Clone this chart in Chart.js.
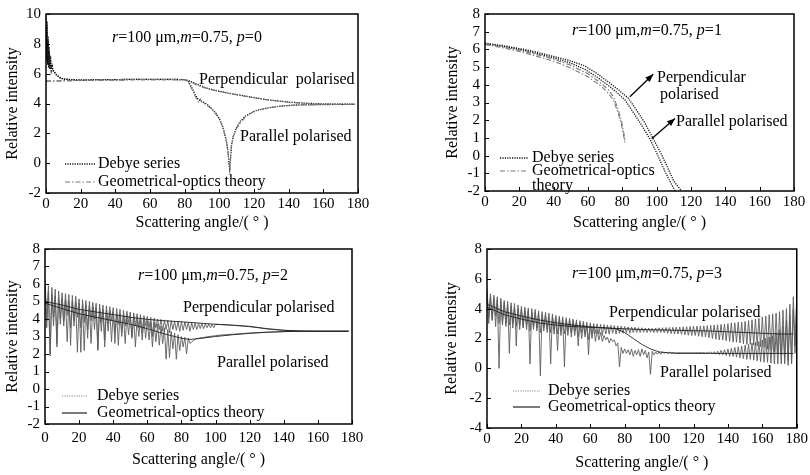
<!DOCTYPE html>
<html><head><meta charset="utf-8">
<script src="https://cdn.jsdelivr.net/npm/chart.js@4.4.0/dist/chart.umd.min.js"></script>
<style>
html,body{margin:0;padding:0;background:#fff;width:810px;height:475px;overflow:hidden}
.p{position:absolute}
</style></head><body>
<div class="p" style="left:0;top:0"><canvas id="c0" width="405" height="235"></canvas></div>
<div class="p" style="left:405px;top:0"><canvas id="c1" width="405" height="235"></canvas></div>
<div class="p" style="left:0;top:235px"><canvas id="c2" width="405" height="240"></canvas></div>
<div class="p" style="left:405px;top:235px"><canvas id="c3" width="405" height="240"></canvas></div>
<script>
// ---------- common ----------
const xTickValues = [0,20,40,60,80,100,120,140,160,180];
const xTitle = 'Scattering angle/( ° )';
const yTitle = 'Relative intensity';

// ---------- p = 0 ----------
const p0DebyePerpX = [0,0.3,0.6,0.9,1.2,1.5,1.8,2.2,2.6,3,3.5,4,5,6,8,10,15,20,30,40,50,60,70,80,82,85,88,90,95,100,105,110,115,120,125,130,140,150,160,170,178];
const p0DebyePerpY = [9.9,7.0,9.5,6.8,8.5,6.5,7.8,6.4,7.2,6.3,6.6,6.25,6.1,5.95,5.75,5.65,5.6,5.58,5.6,5.6,5.62,5.62,5.62,5.6,5.55,5.4,5.25,5.15,4.95,4.82,4.7,4.6,4.5,4.4,4.3,4.22,4.1,4.02,3.97,3.95,3.95];
const p0DebyeParX = [0,0.3,0.6,0.9,1.2,1.5,1.8,2.2,2.6,3,3.5,4,5,6,8,10,15,20,30,40,50,60,70,80,82,84,86,88,90,92,94,96,98,100,102,103,104,105,105.5,106,106.5,107,108,110,112,115,118,122,127,135,145,160,178];
const p0DebyeParY = [9.6,6.8,9.2,6.6,8.2,6.4,7.5,6.3,7.0,6.2,6.5,6.2,6.05,5.9,5.72,5.63,5.58,5.56,5.6,5.6,5.62,5.62,5.62,5.6,5.5,5.1,4.6,4.25,4.15,4.0,3.85,3.6,3.35,3.0,2.45,2.0,1.5,0.8,0.0,-0.4,0.3,1.2,1.8,2.4,2.8,3.15,3.35,3.55,3.68,3.82,3.9,3.93,3.95];
const p0GoPerpX = [0,10,20,40,60,80,82,85,88,90,95,100,110,120,130,140,150,160,178];
const p0GoPerpY = [5.5,5.52,5.55,5.58,5.6,5.6,5.52,5.35,5.2,5.1,4.92,4.8,4.58,4.38,4.2,4.08,4.0,3.95,3.93];
const p0GoParX = [0,10,20,40,60,80,82,84,86,88,89,90,92,95,98,100,102,104,105,106,107,108,110,115,120,130,140,150,160,178];
const p0GoParY = [5.5,5.52,5.55,5.58,5.6,5.6,5.45,5.0,4.5,4.1,4.3,4.05,3.95,3.7,3.3,2.95,2.4,1.5,0.7,-0.2,1.1,1.75,2.35,3.1,3.5,3.75,3.88,3.92,3.93,3.93];
const p0YTicks = [-2,0,2,4,6,8,10];

// ---------- p = 1 ----------
const p1DebyePerpX = [0,10,20,30,40,50,58,65,72,78,83.5,88,93,98,103,106,110,114.5,116];
const p1DebyePerpY = [6.35,6.22,6.05,5.85,5.6,5.35,5.07,4.65,4.15,3.7,3.24,2.6,1.86,0.95,0.03,-0.6,-1.45,-2.0,-2.3];
const p1DebyeParX = [0,10,20,30,40,50,58,65,72,77,81.5,86,91,96,100,104.8,108,110.7,112];
const p1DebyeParY = [6.32,6.18,6.0,5.78,5.52,5.22,4.88,4.45,3.95,3.55,3.15,2.5,1.75,0.95,0.15,-0.88,-1.5,-2.0,-2.3];
const p1GoPerpX = [0,10,20,30,40,50,60,68,72,75,77.6,79.6,81,81.5];
const p1GoPerpY = [6.3,6.15,5.95,5.72,5.45,5.1,4.62,4.06,3.7,3.3,2.6,1.9,1.2,0.86];
const p1GoParX = [0,10,20,30,40,50,60,68,72,75,77.6,79.6,81,81.5];
const p1GoParY = [6.28,6.1,5.88,5.62,5.33,4.95,4.45,3.9,3.5,3.1,2.4,1.7,1.0,0.7];
const p1ArrowFrom = [[84.4,3.33],[97.1,0.95]];
const p1ArrowTo = [[98,4.6],[110.7,2.1]];
const p1YTicks = [-2,-1,0,1,2,3,4,5,6,7,8];

// ---------- p = 2 ----------
const p2DebyePerpDense = [
 6.2,3.9,5.9,2.0,5.8,4.1,5.7,2.6,5.6,4.0,
 5.5,3.9,5.45,4.2,5.4,2.5,5.35,3.9,5.3,4.1,
 5.15,2.1,5.1,3.8,5.05,2.9,5.0,3.9,4.95,4.0,
 4.9,2.3,4.85,3.8,4.8,2.8,4.75,3.7,4.7,3.9,
 4.65,2.6,4.6,3.7,4.55,3.0,4.5,3.6,4.45,3.8,
 4.4,2.9,4.35,3.6,4.3,3.5,4.25,3.2,4.2,3.6,
 4.15,3.5,4.1,3.0,4.05,3.5,4.0,3.4,3.98,3.3,
 3.95,3.4,3.93,3.2,3.9,3.4,3.88,3.35,3.86,3.3,
 3.85,3.35,3.83,3.4,3.8,3.3,3.78,3.4,3.76,3.4,
 3.75,3.45,3.73,3.45,3.72,3.5,3.71,3.5,3.7,3.5,
 3.7];
const p2DebyePerpTailX = [105,110,115,120,125,130,140,150,160,170,178];
const p2DebyePerpTailY = [3.67,3.64,3.6,3.56,3.5,3.43,3.35,3.31,3.3,3.3,3.3];
const p2DebyeParDense = [
 6.0,3.5,5.6,1.9,5.4,3.6,5.3,2.4,5.2,3.7,
 5.15,3.6,5.1,2.7,5.05,3.5,5.0,3.6,4.95,2.1,
 4.9,3.5,4.85,2.2,4.8,3.4,4.75,2.6,4.7,3.4,
 4.65,2.2,4.6,3.3,4.55,2.4,4.5,3.3,4.45,2.7,
 4.4,3.2,4.35,2.5,4.3,3.2,4.25,2.6,4.2,3.1,
 4.15,3.0,4.1,2.4,4.05,3.0,4.0,2.8,3.95,2.9,
 3.9,2.8,3.85,2.4,3.8,2.7,3.7,2.5,3.6,2.6,
 3.5,1.7,3.4,1.8,3.3,2.3,3.2,1.7,3.1,2.2,
 3.0,2.4,2.95,2.0,2.9,2.6];
const p2DebyeParTailX = [88,90,95,100,105,110,120,130,140,150,160,170,178];
const p2DebyeParTailY = [2.85,2.9,2.98,3.05,3.1,3.13,3.2,3.25,3.28,3.3,3.3,3.3,3.3];
const p2GoPerpX = [0,10,20,30,40,50,60,70,80,90,100,110,120,130,140,150,160,170,178];
const p2GoPerpY = [5.0,4.8,4.55,4.4,4.25,4.1,3.98,3.9,3.84,3.77,3.7,3.65,3.58,3.45,3.36,3.31,3.3,3.3,3.3];
const p2GoParX = [0,10,20,30,40,50,60,70,80,85,90,100,110,120,130,140,150,160,170,178];
const p2GoParY = [4.9,4.6,4.3,4.1,3.9,3.7,3.45,3.15,2.9,2.83,2.88,3.0,3.1,3.18,3.24,3.28,3.3,3.3,3.3,3.3];
const p2YTicks = [-2,-1,0,1,2,3,4,5,6,7,8];

// ---------- p = 3 ----------
const p3DebyePerpDense = [
 5.3,3.4,5.0,3.3,4.9,3.5,4.8,0.0,4.7,3.1,
 4.55,3.0,4.5,1.0,4.4,3.0,4.35,1.5,4.25,2.9,
 4.15,2.8,4.1,2.9,4.05,0.3,4.0,2.8,3.95,2.7,
 3.85,-0.5,3.8,2.7,3.75,2.6,3.7,0.3,3.65,2.6,
 3.55,1.2,3.5,2.5,3.45,0.1,3.4,2.5,3.35,2.4,
 3.3,2.5,3.25,1.5,3.2,2.4,3.15,2.3,3.1,0.9,
 3.05,2.3,3.0,2.35,2.98,2.3,2.95,2.2,2.93,2.3,
 2.9,2.3,2.88,2.35,2.87,2.3,2.85,2.35,2.83,2.35,
 2.8,2.4,2.78,2.35,2.77,2.4,2.75,2.4,2.73,2.4,
 2.72,2.42,2.7,2.4,2.7,2.42,2.68,2.4,2.7,2.4,
 2.72,2.4,2.72,2.38,2.74,2.35,2.74,2.33,2.75,2.3,
 2.76,2.3,2.77,2.28,2.78,2.25,2.79,2.22,2.8,2.2,
 2.82,2.2,2.83,2.15,2.84,2.12,2.85,2.1,2.86,2.05,
 2.88,2.0,2.9,1.95,2.92,1.9,2.95,1.9,2.97,1.85,
 3.0,1.8,3.05,1.75,3.05,1.75,3.1,1.7,3.1,1.65,
 3.15,1.6,3.2,1.6,3.25,1.55,3.3,1.5,3.35,1.45,
 3.45,1.4,3.5,1.3,3.6,1.2,3.65,1.1,3.7,1.0,
 3.8,0.9,3.9,0.7,4.0,0.5,4.3,0.3,4.8,1.5,
 4.9];
const p3DebyeParDense = [
 5.1,3.0,4.8,3.2,4.7,2.8,4.6,3.0,4.5,2.9,
 4.4,2.8,4.3,2.9,4.2,2.7,4.1,2.8,4.0,2.6,
 3.95,2.7,3.9,2.6,3.85,2.5,3.8,2.6,3.75,2.5,
 3.7,2.4,3.6,2.5,3.55,2.4,3.5,2.4,3.45,2.3,
 3.4,2.3,3.35,2.2,3.3,2.3,3.25,2.2,3.2,2.1,
 3.15,2.2,3.1,2.1,3.05,2.0,3.0,2.1,2.95,1.9,
 2.9,2.0,2.8,1.8,2.6,1.9,2.4,1.8,2.2,1.9,
 2.1,1.7,2.0,1.8,1.9,1.5,1.7,0.1,1.4,1.0,
 1.3,1.0,1.25,0.9,1.3,0.8,1.2,0.9,1.25,0.8,
 1.3,0.9,1.2,0.7,1.1,-0.4,1.15,0.9,1.1,0.95,
 1.1,0.95,1.1,1.0,1.08,1.0,1.07,1.02,1.06,1.02,
 1.05,1.03,1.05,1.03,1.05,1.03,1.05,1.03,1.05,1.03,
 1.05,1.03,1.05,1.03,1.06,1.02,1.07,1.0,1.08,1.0,
 1.1,0.98,1.12,0.95,1.15,0.92,1.2,0.9,1.25,0.85,
 1.3,0.8,1.35,0.8,1.4,0.75,1.45,0.7,1.5,0.65,
 1.55,0.6,1.6,0.6,1.7,0.55,1.75,0.5,1.8,0.45,
 1.9,0.4,2.0,0.4,2.1,0.35,2.2,0.3,2.4,0.3,
 2.6,0.3,2.8,0.3,3.2,0.2,3.6,0.4,4.0,1.0,
 4.5];
const p3GoPerpX = [0,10,20,30,40,50,60,70,80,90,100,110,120,130,140,150,160,170,178];
const p3GoPerpY = [4.3,3.8,3.5,3.25,3.05,2.9,2.78,2.7,2.65,2.6,2.58,2.55,2.52,2.5,2.45,2.4,2.35,2.3,2.3];
const p3GoParX = [0,10,20,30,40,50,60,70,75,80,85,90,95,100,105,110,120,130,140,150,160,170,178];
const p3GoParY = [4.1,3.6,3.3,3.05,2.9,2.8,2.75,2.7,2.65,2.4,2.0,1.6,1.3,1.1,1.05,1.0,1.0,1.0,1.0,1.0,1.0,1.0,1.0];
const p3YTicks = [-4,-2,0,2,4,6,8];

// ---------- helpers ----------
const SERIF = "'Liberation Serif','Times New Roman',serif";
const TICK_PX = 15, TEXT_PX = 16;
function pts(xs, ys){ return xs.map((x,i)=>({x:x,y:ys[i]})); }
function dense(ys){ return ys.map((y,i)=>({x:i,y:y})); }

const STY = {
  debyeDark: {borderColor:'#111', borderWidth:1.3, borderDash:[1.2,1.2]},
  goGray:    {borderColor:'#777', borderWidth:1.1, borderDash:[5,2,1.5,2]},
  debyeGray: {borderColor:'#5e5e5e', borderWidth:0.9, borderDash:[]},
  goBlack:   {borderColor:'#222', borderWidth:0.9, borderDash:[]}
};
function ds(data, sty){
  return Object.assign({data:data, showLine:true, pointRadius:0, fill:false, clip:0, tension:0}, sty);
}

function strokeStyleLine(ctx, sty, x1, x2, y){
  ctx.save();
  ctx.strokeStyle = sty === STY.debyeGray ? '#888' : sty.borderColor;
  ctx.lineWidth = Math.max(sty.borderWidth, 1.2);
  ctx.setLineDash(sty === STY.debyeGray ? [1.2,1.2] : sty.borderDash);
  ctx.beginPath(); ctx.moveTo(x1,y); ctx.lineTo(x2,y); ctx.stroke();
  ctx.restore();
}

function decor(cfg){
  return {
    id:'decor'+cfg.id,
    afterDraw(chart){
      const ctx = chart.ctx, a = chart.chartArea;
      const xs = chart.scales.x, ys = chart.scales.y;
      ctx.save();
      ctx.strokeStyle = '#000'; ctx.lineWidth = 1.5; ctx.setLineDash([]);
      ctx.strokeRect(a.left, a.top, a.right - a.left, a.bottom - a.top);
      ctx.lineWidth = 1;
      xs.ticks.forEach(t=>{ const px = Math.round(xs.getPixelForValue(t.value))+0.5;
        ctx.beginPath(); ctx.moveTo(px, a.bottom); ctx.lineTo(px, a.bottom-4); ctx.stroke(); });
      ys.ticks.forEach(t=>{ const py = Math.round(ys.getPixelForValue(t.value))+0.5;
        ctx.beginPath(); ctx.moveTo(a.left, py); ctx.lineTo(a.left+4, py); ctx.stroke(); });
      ctx.fillStyle = '#000'; ctx.textBaseline = 'middle'; ctx.textAlign = 'left';
      let tx = a.left + cfg.title.dx;
      const ty = a.top + cfg.title.dy;
      cfg.title.parts.forEach(p=>{
        ctx.font = (p[1] ? 'italic ' : '') + TEXT_PX + 'px ' + SERIF;
        ctx.fillText(p[0], tx, ty);
        tx += ctx.measureText(p[0]).width;
      });
      ctx.font = TEXT_PX + 'px ' + SERIF;
      cfg.labels.forEach(l=>ctx.fillText(l.t, a.left + l.dx, a.top + l.dy));
      cfg.legend.forEach(l=>{
        strokeStyleLine(ctx, l.sty, a.left + l.x1, a.left + l.x2, a.top + l.dy);
        ctx.fillStyle = '#000'; ctx.font = TEXT_PX + 'px ' + SERIF;
        ctx.fillText(l.text, a.left + l.tx, a.top + l.dy);
      });
      (cfg.arrows || []).forEach(ar=>{
        const x1 = xs.getPixelForValue(ar[0][0]), y1 = ys.getPixelForValue(ar[0][1]);
        const x2 = xs.getPixelForValue(ar[1][0]), y2 = ys.getPixelForValue(ar[1][1]);
        ctx.strokeStyle = '#000'; ctx.fillStyle = '#000'; ctx.lineWidth = 1.3; ctx.setLineDash([]);
        ctx.beginPath(); ctx.moveTo(x1,y1); ctx.lineTo(x2,y2); ctx.stroke();
        const ang = Math.atan2(y2-y1, x2-x1), L = 8, W = 3.2;
        ctx.beginPath();
        ctx.moveTo(x2,y2);
        ctx.lineTo(x2 - L*Math.cos(ang) + W*Math.sin(ang), y2 - L*Math.sin(ang) - W*Math.cos(ang));
        ctx.lineTo(x2 - L*Math.cos(ang) - W*Math.sin(ang), y2 - L*Math.sin(ang) + W*Math.cos(ang));
        ctx.closePath(); ctx.fill();
      });
      ctx.restore();
    }
  };
}

function makeChart(id, cfg){
  new Chart(document.getElementById(id), {
    type:'scatter',
    data:{datasets:cfg.datasets},
    options:{
      responsive:false, animation:false, devicePixelRatio:1,
      layout:{padding:{left:cfg.padL, right:cfg.padR, top:cfg.padT, bottom:0}},
      plugins:{legend:{display:false}, tooltip:{enabled:false}},
      scales:{
        x:{type:'linear', min:0, max:180,
           afterBuildTicks(s){ s.ticks = xTickValues.map(v=>({value:v})); },
           ticks:{color:'#000', font:{family:SERIF,size:TICK_PX}, padding:cfg.xTickPad, maxRotation:0, autoSkip:false, callback:v=>String(v)},
           grid:{display:false, drawTicks:false}, border:{display:false},
           title:{display:true, text:xTitle, color:'#000', font:{family:SERIF,size:TEXT_PX}, padding:{top:0,bottom:cfg.xTitlePadB}},
           afterFit(s){ s.height = cfg.xH; }},
        y:{type:'linear', min:cfg.yTicks[0], max:cfg.yTicks[cfg.yTicks.length-1],
           afterBuildTicks(s){ s.ticks = cfg.yTicks.map(v=>({value:v})); },
           ticks:{color:'#000', font:{family:SERIF,size:TICK_PX}, padding:5, autoSkip:false, callback:v=>String(v)},
           grid:{display:false, drawTicks:false}, border:{display:false},
           title:{display:true, text:yTitle, color:'#000', font:{family:SERIF,size:TEXT_PX}, padding:{top:cfg.yTitlePadT,bottom:0}},
           afterFit(s){ s.width = cfg.yW; }}
      }
    },
    plugins:[decor(cfg)]
  });
}

const titleParts = p => [['r',true],['=100 μm,',false],['m',true],['=0.75, ',false],['p',true],['='+p,false]];

makeChart('c0', {
  id:0, padL:0, padR:47, padT:9, yW:46, xH:42, xTickPad:2, xTitlePadB:3, yTitlePadT:3, yTicks:p0YTicks,
  datasets:[
    ds(pts(p0GoPerpX,p0GoPerpY), STY.goGray),
    ds(pts(p0GoParX,p0GoParY), STY.goGray),
    ds(pts(p0DebyePerpX,p0DebyePerpY), STY.debyeDark),
    ds(pts(p0DebyeParX,p0DebyeParY), STY.debyeDark)
  ],
  title:{dx:66, dy:24, parts:titleParts(0)},
  labels:[{t:'Perpendicular  polarised', dx:153, dy:66},{t:'Parallel polarised', dx:194, dy:123}],
  legend:[{x1:19,x2:49,dy:150,sty:STY.debyeDark,text:'Debye series',tx:52},
          {x1:19,x2:49,dy:168,sty:STY.goGray,text:'Geometrical-optics theory',tx:52}]
});

makeChart('c1', {
  id:1, padL:35, padR:16, padT:10, yW:45, xH:44, xTickPad:2, xTitlePadB:3, yTitlePadT:3, yTicks:p1YTicks,
  datasets:[
    ds(pts(p1GoPerpX,p1GoPerpY), STY.goGray),
    ds(pts(p1GoParX,p1GoParY), STY.goGray),
    ds(pts(p1DebyePerpX,p1DebyePerpY), STY.debyeDark),
    ds(pts(p1DebyeParX,p1DebyeParY), STY.debyeDark)
  ],
  title:{dx:87, dy:17, parts:titleParts(1)},
  labels:[{t:'Perpendicular', dx:172, dy:64},{t:'polarised', dx:175, dy:81},{t:'Parallel polarised', dx:191, dy:108},
          {t:'theory', dx:47, dy:172}],
  legend:[{x1:15,x2:43,dy:144,sty:STY.debyeDark,text:'Debye series',tx:47},
          {x1:15,x2:43,dy:157,sty:STY.goGray,text:'Geometrical-optics',tx:47}],
  arrows:[[p1ArrowFrom[0],p1ArrowTo[0]],[p1ArrowFrom[1],p1ArrowTo[1]]]
});

makeChart('c2', {
  id:2, padL:0, padR:53, padT:8, yW:45, xH:51, xTickPad:5, xTitlePadB:6, yTitlePadT:3, yTicks:p2YTicks,
  datasets:[
    ds(pts(p2GoPerpX,p2GoPerpY), STY.goBlack),
    ds(pts(p2GoParX,p2GoParY), STY.goBlack),
    ds(dense(p2DebyePerpDense).concat(pts(p2DebyePerpTailX,p2DebyePerpTailY)), STY.debyeGray),
    ds(dense(p2DebyeParDense).concat(pts(p2DebyeParTailX,p2DebyeParTailY)), STY.debyeGray)
  ],
  title:{dx:93, dy:27, parts:titleParts(2)},
  labels:[{t:'Perpendicular polarised', dx:138, dy:59},{t:'Parallel polarised', dx:172, dy:114}],
  legend:[{x1:17,x2:42,dy:147,sty:STY.debyeGray,text:'Debye series',tx:52},
          {x1:17,x2:42,dy:164,sty:STY.goBlack,text:'Geometrical-optics theory',tx:52}]
});

makeChart('c3', {
  id:3, padL:34, padR:13, padT:10, yW:48, xH:47, xTickPad:2, xTitlePadB:3, yTitlePadT:3, yTicks:p3YTicks,
  datasets:[
    ds(pts(p3GoPerpX,p3GoPerpY), STY.goBlack),
    ds(pts(p3GoParX,p3GoParY), STY.goBlack),
    ds(dense(p3DebyePerpDense), STY.debyeGray),
    ds(dense(p3DebyeParDense), STY.debyeGray)
  ],
  title:{dx:85, dy:25, parts:titleParts(3)},
  labels:[{t:'Perpendicular polarised', dx:122, dy:64},{t:'Parallel polarised', dx:173, dy:124}],
  legend:[{x1:26,x2:53,dy:142,sty:STY.debyeGray,text:'Debye series',tx:61},
          {x1:26,x2:53,dy:158,sty:STY.goBlack,text:'Geometrical-optics theory',tx:61}]
});
</script>
</body></html>
